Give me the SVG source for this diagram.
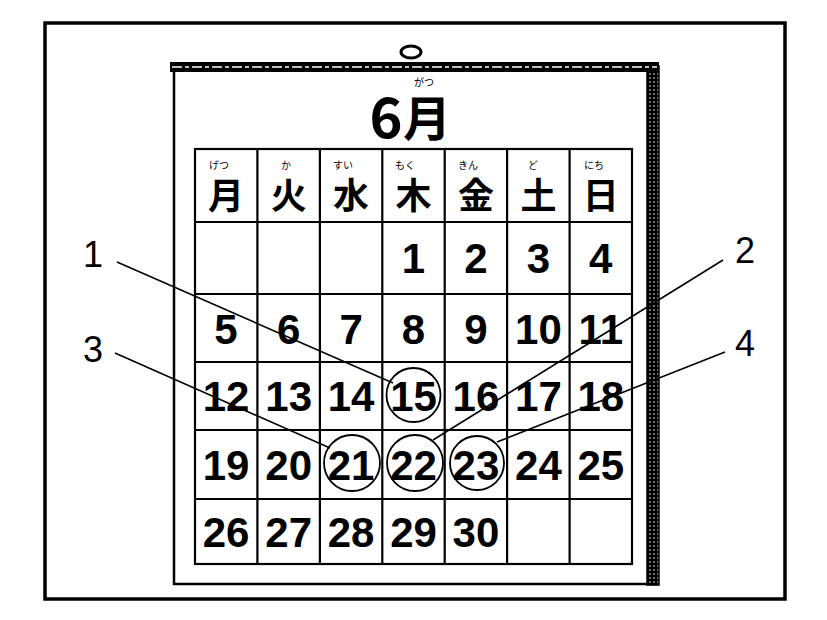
<svg xmlns="http://www.w3.org/2000/svg" width="827" height="620" viewBox="0 0 827 620">
<defs>
<pattern id="dots" width="4" height="4" patternUnits="userSpaceOnUse">
<rect width="4" height="4" fill="#000"/>
<circle cx="2" cy="2" r="0.8" fill="#fff"/>
</pattern>
</defs>
<style>
.ln{stroke:#000;fill:none}
.grid{stroke:#000;stroke-width:2.2;fill:none}
.num{font-family:"Liberation Sans",Arial,sans-serif;font-weight:bold;font-size:42px;text-anchor:middle;fill:#000}
.kan{font-family:"Liberation Sans","Noto Sans CJK JP",sans-serif;font-weight:bold;font-size:36px;text-anchor:middle;fill:#000}
.rb{font-family:"Liberation Sans","Noto Sans CJK JP",sans-serif;font-size:10px;text-anchor:middle;fill:#000}
.lab{font-family:"Liberation Sans",Arial,sans-serif;font-size:36px;text-anchor:middle;fill:#000}
.circ{stroke:#000;stroke-width:1.8;fill:none}
.lead{stroke:#000;stroke-width:1.6;fill:none}
</style>
<rect width="827" height="620" fill="#fff"/>
<g id="frame">
<rect x="45" y="23" width="740" height="576" class="ln" stroke-width="3.5"/>
</g>
<g id="calendar">
<ellipse cx="411" cy="52" rx="10" ry="6" class="ln" stroke-width="3"/>
<line x1="174" y1="70" x2="174" y2="585" class="ln" stroke-width="2.5"/>
<line x1="173" y1="584" x2="659" y2="584" class="ln" stroke-width="2.5"/>
<rect x="647" y="66" width="12" height="519" fill="url(#dots)" stroke="#000" stroke-width="1.5"/>
<rect x="170" y="62" width="489" height="10" fill="#000"/>
<line x1="172" y1="67" x2="657" y2="67" stroke="#fff" stroke-width="1.5" stroke-dasharray="10 3 4 3"/>
<g id="title">
<text x="386" y="138" font-family="Noto Sans CJK JP,sans-serif" font-weight="bold" font-size="56" text-anchor="middle">6</text>
<text x="427" y="136" font-family="Liberation Sans,Noto Sans CJK JP,sans-serif" font-weight="bold" font-size="48" text-anchor="middle">月</text>
<text x="424" y="86" class="rb">がつ</text>
</g>
<g id="grid">
<rect x="195" y="149" width="437" height="415" class="grid"/>
<path class="grid" d="M257.4 149V564M319.9 149V564M382.3 149V564M444.7 149V564M507.1 149V564M569.6 149V564M195 222H632M195 294H632M195 362H632M195 430H632M195 499H632"/>
</g>
<g id="weekdays">
<text x="226" y="209" class="kan">月</text><text x="219" y="169" class="rb">げつ</text>
<text x="288.7" y="209" class="kan">火</text><text x="286" y="169" class="rb">か</text>
<text x="351.1" y="209" class="kan">水</text><text x="343" y="169" class="rb">すい</text>
<text x="413.5" y="209" class="kan">木</text><text x="405" y="169" class="rb">もく</text>
<text x="475.9" y="209" class="kan">金</text><text x="468" y="169" class="rb">きん</text>
<text x="538.4" y="209" class="kan">土</text><text x="533" y="169" class="rb">ど</text>
<text x="600.8" y="209" class="kan">日</text><text x="594" y="169" class="rb">にち</text>
</g>
<g id="days">
<text x="413.5" y="273" class="num">1</text>
<text x="475.9" y="273" class="num">2</text>
<text x="538.4" y="273" class="num">3</text>
<text x="600.8" y="273" class="num">4</text>
<text x="226" y="344" class="num">5</text>
<text x="288.7" y="344" class="num">6</text>
<text x="351.1" y="344" class="num">7</text>
<text x="413.5" y="344" class="num">8</text>
<text x="475.9" y="344" class="num">9</text>
<text x="538.4" y="344" class="num">10</text>
<text x="600.8" y="344" class="num">11</text>
<text x="226" y="411" class="num">12</text>
<text x="288.7" y="411" class="num">13</text>
<text x="351.1" y="411" class="num">14</text>
<text x="413.5" y="411" class="num">15</text>
<text x="475.9" y="411" class="num">16</text>
<text x="538.4" y="411" class="num">17</text>
<text x="600.8" y="411" class="num">18</text>
<text x="226" y="480" class="num">19</text>
<text x="288.7" y="480" class="num">20</text>
<text x="351.1" y="480" class="num">21</text>
<text x="413.5" y="480" class="num">22</text>
<text x="475.9" y="480" class="num">23</text>
<text x="538.4" y="480" class="num">24</text>
<text x="600.8" y="480" class="num">25</text>
<text x="226" y="547" class="num">26</text>
<text x="288.7" y="547" class="num">27</text>
<text x="351.1" y="547" class="num">28</text>
<text x="413.5" y="547" class="num">29</text>
<text x="475.9" y="547" class="num">30</text>
</g>
</g>
<g id="marks">
<circle cx="413.5" cy="395" r="27" class="circ"/>
<circle cx="352" cy="463" r="28" class="circ"/>
<circle cx="415" cy="463" r="28" class="circ"/>
<circle cx="477" cy="463" r="27" class="circ"/>
</g>
<g id="connectors">
<line x1="117" y1="262" x2="393" y2="383" class="lead"/>
<line x1="115" y1="353" x2="330" y2="448" class="lead"/>
<line x1="723" y1="260" x2="433" y2="440" class="lead"/>
<line x1="725" y1="352" x2="497" y2="442" class="lead"/>
</g>
<g id="label-1"><text x="93" y="267" class="lab">1</text></g>
<g id="label-2"><text x="745" y="263" class="lab">2</text></g>
<g id="label-3"><text x="93" y="362" class="lab">3</text></g>
<g id="label-4"><text x="745" y="356" class="lab">4</text></g>
</svg>
